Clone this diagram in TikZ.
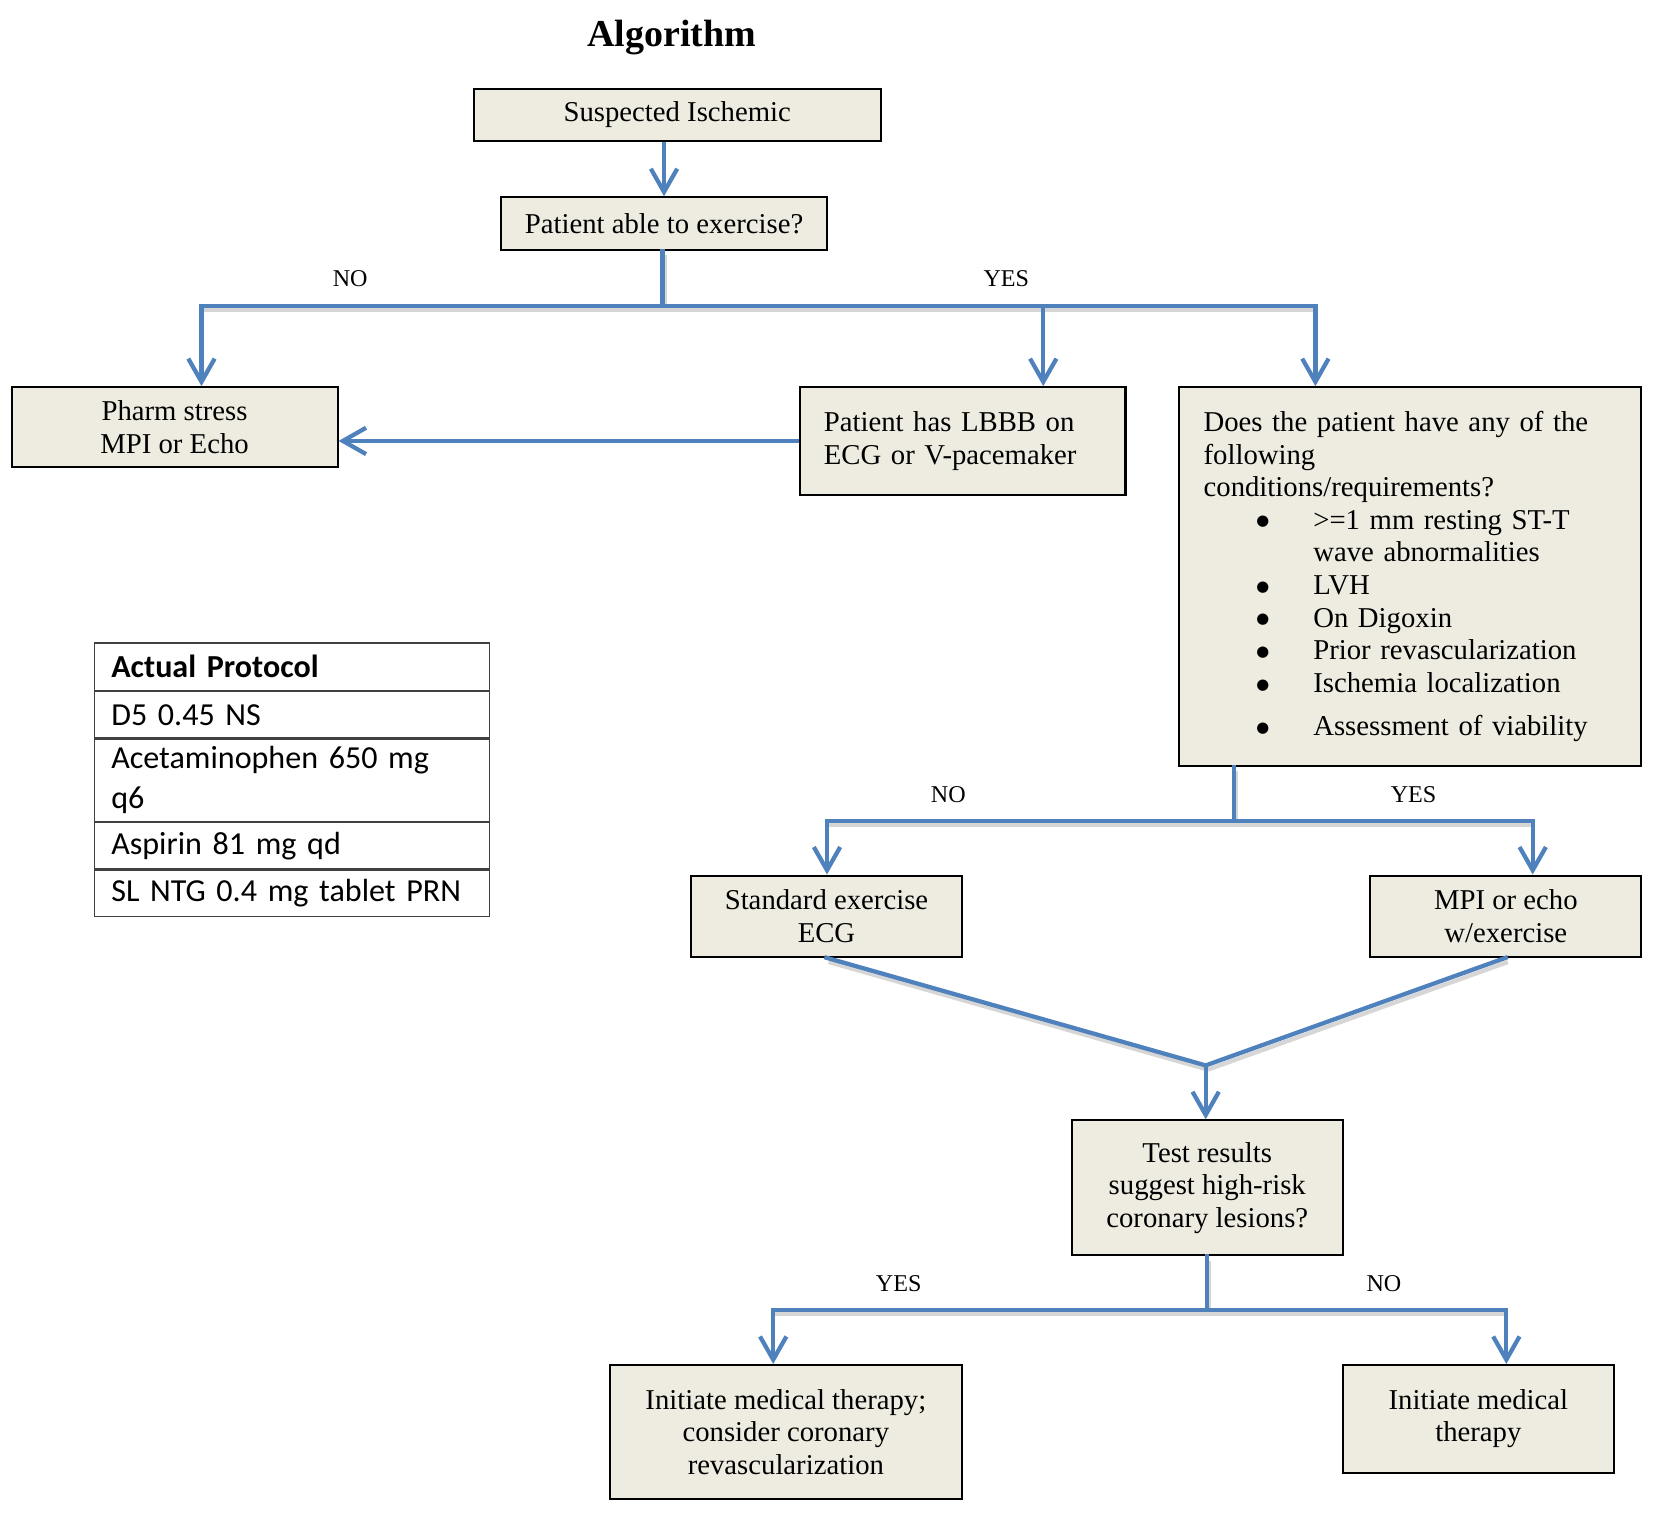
\documentclass[tikz,border=0pt]{standalone}
\usepackage{fontspec}
\setmainfont{Liberation Serif}
\newfontfamily\tablefont{Carlito}
\newfontfamily\dotfont{DejaVu Sans}
\usetikzlibrary{arrows.meta,positioning}
\definecolor{flowblue}{RGB}{79,129,189}
\definecolor{boxfill}{RGB}{238,236,225}
\definecolor{shadowgray}{RGB}{214,214,214}
\newcommand{\condbullet}{\hspace*{1.0cm}\makebox[1.08cm][l]{\raisebox{1.8pt}{\dotfont\fontsize{8}{8}\selectfont ●}}}

\begin{document}
\begin{tikzpicture}[x=0.02cm, y=-0.02cm,
  box/.style={draw=black, line width=1.1pt, fill=boxfill, align=center, inner sep=0pt,
    font=\fontsize{15.5}{17.6}\selectfont},
  leftbox/.style={box, align=left, inner xsep=0.46cm},
  answer/.style={font=\fontsize{13}{15}\selectfont},
  trunk/.style={draw=flowblue, line width=2.3pt, line cap=rect,
    preaction={draw=shadowgray, line width=2.3pt, transform canvas={shift={(2,4)}}}},
  flow/.style={draw=flowblue, line width=2.3pt, -{Straight Barb[length=0.44cm, width=0.5cm]}},
  row/.style={draw=black!75, line width=0.6pt, anchor=north west, minimum width=7.5cm,
    text width=6.86cm, inner xsep=0.32cm, inner ysep=0pt, align=left,
    font=\tablefont\fontsize{17.3}{21.5}\selectfont}]
  \useasboundingbox (0,0) rectangle (1568,1458);

  \node (title) at (637,36) [font=\bfseries\fontsize{20.5}{24}\selectfont]{Algorithm};

  % boxes
  \node (susp) at (642,109) [box, minimum width=7.72cm, minimum height=1cm]{Suspected Ischemic};
  \node (able) at (629.5,212) [box, minimum width=6.18cm, minimum height=1cm]{Patient able to exercise?};
  \node (pharm) at (165.5,405) [box, minimum width=6.18cm, minimum height=1.52cm]{Pharm stress\\ MPI or Echo};
  \node (lbbb) at (912.5,418) [leftbox, minimum width=6.18cm, minimum height=2.04cm, text width=5.26cm]{Patient has LBBB on\\ ECG or V-pacemaker};
  \node (does) at (1337,546.5) [leftbox, minimum width=8.76cm, minimum height=7.18cm, text width=7.84cm]{%
    Does the patient have any of the\\ following\\ conditions/requirements?\\
    \condbullet>=1 mm resting ST-T\\ \hspace*{2.08cm}wave abnormalities\\
    \condbullet LVH\\ \condbullet On Digoxin\\ \condbullet Prior revascularization\\
    \condbullet Ischemia localization\\[0.2cm] \condbullet Assessment of viability};
  \node (std) at (783.5,868.5) [box, minimum width=5.14cm, minimum height=1.54cm]{Standard exercise\\ ECG};
  \node (mpi) at (1427.5,868.5) [box, minimum width=5.14cm, minimum height=1.54cm]{MPI or echo\\ w/exercise};
  \node (test) at (1144.5,1126) [box, minimum width=5.14cm, minimum height=2.56cm]{Test results\\ suggest high-risk\\ coronary lesions?};
  \node (initc) at (745,1357.5) [box, minimum width=6.68cm, minimum height=2.54cm]{Initiate medical therapy;\\ consider coronary\\ revascularization};
  \node (initm) at (1401.5,1345) [box, minimum width=5.14cm, minimum height=2.04cm]{Initiate medical\\ therapy};

  % answers
  \node (no1) at (332,264) [answer]{NO};
  \node (yes1) at (954,264) [answer]{YES};
  \node (no2) at (899,753) [answer]{NO};
  \node (yes2) at (1340,753) [answer]{YES};
  \node (yes3) at (852,1217) [answer]{YES};
  \node (no3) at (1312,1217) [answer]{NO};

  % connectors
  \coordinate (split1) at (628,290);
  \coordinate (left1) at (191,290);
  \coordinate (mid1) at (989,290);
  \coordinate (right1) at (1247,290);
  \coordinate (split2) at (1170,778);
  \coordinate (left2) at (784,778);
  \coordinate (right2) at (1453,778);
  \coordinate (merge) at (1143,1010);
  \coordinate (split3) at (1144,1242);
  \coordinate (left3) at (733,1242);
  \coordinate (right3) at (1428,1242);

  \draw[flow] (susp.south -| able) -- (able.north);
  \draw[trunk] (able.south -| split1) -- (split1);
  \draw[trunk] (left1) -- (right1);
  \draw[flow] (left1) -- (left1 |- pharm.north);
  \draw[flow] (mid1) -- (mid1 |- lbbb.north);
  \draw[flow] (right1) -- (right1 |- does.north);
  \draw[flow] (lbbb.west) -- (lbbb.west -| pharm.east);

  \draw[trunk] (split2 |- does.south) -- (split2);
  \draw[trunk] (left2) -- (right2);
  \draw[flow] (left2) -- (left2 |- std.north);
  \draw[flow] (right2) -- (right2 |- mpi.north);

  \draw[trunk] (std.south) -- (merge);
  \draw[trunk] (mpi.south) -- (merge);
  \draw[flow] (merge) -- (merge |- test.north);

  \draw[trunk] (split3 |- test.south) -- (split3);
  \draw[trunk] (left3) -- (right3);
  \draw[flow] (left3) -- (left3 |- initc.north);
  \draw[flow] (right3) -- (right3 |- initm.north);

  % protocol table
  \node (head) at (89,609) [row, minimum height=0.9cm]{\bfseries Actual Protocol};
  \node (dfive) [row, below=0pt of head, minimum height=0.88cm]{D5 0.45 NS};
  \node (acet) [row, below=0pt of dfive, minimum height=1.56cm]{Acetaminophen 650 mg\\ q6};
  \node (aspirin) [row, below=0pt of acet, minimum height=0.88cm]{Aspirin 81 mg qd};
  \node (ntg) [row, below=0pt of aspirin, minimum height=0.88cm]{SL NTG 0.4 mg tablet PRN};
\end{tikzpicture}
\end{document}
